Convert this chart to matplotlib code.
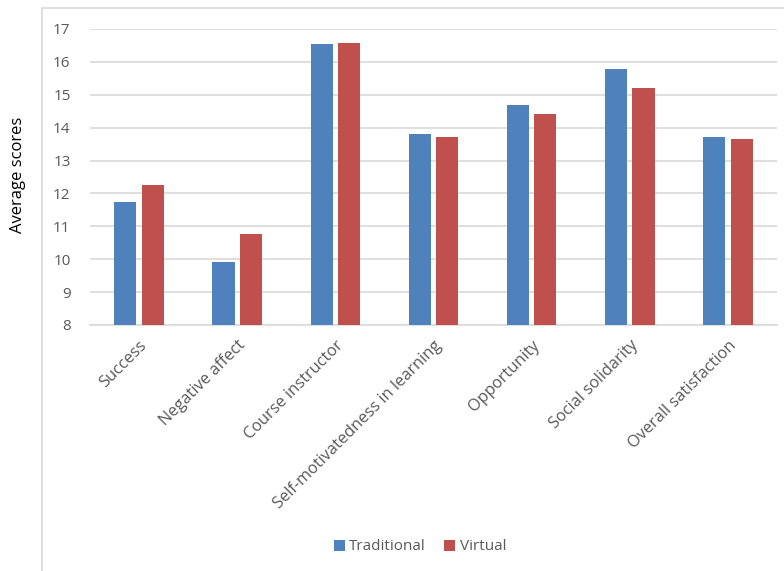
import numpy as np
import matplotlib
matplotlib.use("Agg")
import matplotlib.pyplot as plt
from matplotlib.patches import Rectangle

categories = ["Success", "Negative affect", "Course instructor",
              "Self-motivatedness in learning", "Opportunity",
              "Social solidarity", "Overall satisfaction"]
traditional = [11.75, 9.93, 16.53, 13.81, 14.69, 15.78, 13.73]
virtual = [12.26, 10.78, 16.56, 13.71, 14.41, 15.21, 13.65]

plt.rcParams['font.family'] = ['Open Sans', 'DejaVu Sans']

fig = plt.figure(figsize=(7.84, 5.71), dpi=100)
ax = fig.add_axes([90 / 784, 1 - 325 / 571, 687 / 784, 296 / 571])

# outer chart border (runs off the bottom and right of the image)
fig.patches.append(Rectangle((42 / 784, -0.1), 1.0, 1.1 - 8 / 571,
                             transform=fig.transFigure, fill=False,
                             edgecolor="#d9d9d9", linewidth=1.2))

x = np.arange(len(categories))
w = 0.225
ax.bar(x - 0.14, traditional, w, color="#4F81BD", label="Traditional", zorder=3)
ax.bar(x + 0.14, virtual, w, color="#C0504D", label="Virtual", zorder=3)

ax.set_ylim(8, 17)
ax.set_xlim(-0.5, len(categories) - 0.5)
ax.set_yticks(range(8, 18))
ax.grid(axis="y", color="#d9d9d9", linewidth=1.2, zorder=0)
for s in ax.spines.values():
    s.set_visible(False)
ax.spines["bottom"].set_visible(True)
ax.spines["bottom"].set_color("#d9d9d9")
ax.spines["bottom"].set_linewidth(1.2)

ax.tick_params(axis="both", length=0, labelsize=11, labelcolor="#595959")
ax.tick_params(axis="y", pad=14)
ax.set_xticks(x)
ax.set_xticklabels(categories, rotation=45, ha="right", rotation_mode="anchor",
                   fontsize=11.8)
ax.tick_params(axis="x", pad=9)

fig.text(18 / 784, 1 - 175 / 571, "Average scores", rotation=90,
         ha="center", va="center", fontsize=12, color="black")

fig.legend(loc="center", bbox_to_anchor=(420 / 784, 1 - 547 / 571), ncol=2,
           frameon=False, fontsize=11, labelcolor="#595959",
           handlelength=0.7, handleheight=0.7, handletextpad=0.3,
           columnspacing=1.2)

fig.savefig("out.png", dpi=100)
